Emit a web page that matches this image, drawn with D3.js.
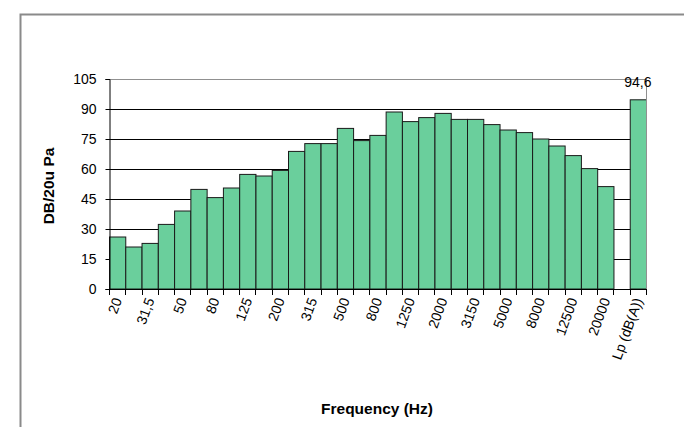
<!DOCTYPE html>
<html lang="en">
<head>
  <meta charset="UTF-8" />
  <title>Frequency spectrum</title>
  <style>
    body {
      margin: 0;
      padding: 0;
      background: #ffffff;
      font-family: "Liberation Sans", Arial, sans-serif;
    }
    svg {
      display: block;
    }
    .tick text {
      font-size: 14px;
      fill: #000;
    }
  </style>
</head>
<body>
  <svg id="chart"></svg>

  <script src="https://d3js.org/d3.v7.min.js"></script>
  <script>
    // third-octave bands, one empty slot, then the overall level
    const bands = ["20", "25", "31,5", "40", "50", "63", "80", "100", "125", "160",
      "200", "250", "315", "400", "500", "630", "800", "1000", "1250", "1600",
      "2000", "2500", "3150", "4000", "5000", "6300", "8000", "10000", "12500",
      "16000", "20000", "", "Lp (dB(A))"];
    const levels = [26, 21, 22.8, 32.3, 39, 49.8, 45.7, 50.5, 57.3, 56.5,
      59.3, 68.8, 72.7, 72.7, 80.3, 74.2, 76.8, 88.5, 83.7, 85.7,
      87.8, 84.8, 84.8, 82.2, 79.5, 78.2, 75, 71.5, 66.7,
      60.2, 51.2, null, 94.6];
    const yTicks = [0, 15, 30, 45, 60, 75, 90, 105];
    const shownLabels = ["20", "31,5", "50", "80", "125", "200", "315", "500", "800",
      "1250", "2000", "3150", "5000", "8000", "12500", "20000", "Lp (dB(A))"];
    const valueLabel = { key: "Lp (dB(A))", text: "94,6" };

    const width = 684, height = 427;
    const svg = d3.select("#chart").attr("width", width).attr("height", height);

    // outer frame
    svg.append("rect")
      .attr("x", 20.5).attr("y", 14.5)
      .attr("width", width).attr("height", height)
      .attr("fill", "none")
      .attr("stroke", "#8a8a8a")
      .attr("stroke-width", 2);

    const plotLeft = 109, plotRight = 646, plotTop = 79, plotBottom = 289;

    const x = d3.scaleBand()
      .domain(d3.range(bands.length))
      .range([plotLeft, plotRight])
      .padding(0);

    const y = d3.scaleLinear()
      .domain([0, 105])
      .range([plotBottom, plotTop]);

    // grid
    svg.append("g")
      .selectAll("line")
      .data(yTicks)
      .join("line")
      .attr("x1", plotLeft).attr("x2", plotRight)
      .attr("y1", d => Math.round(y(d)) + 0.5)
      .attr("y2", d => Math.round(y(d)) + 0.5)
      .attr("stroke", d => d === 105 ? "#909090" : "#000")
      .attr("stroke-width", 1);

    // bars
    svg.append("g")
      .selectAll("rect")
      .data(levels.map((v, i) => ({ i, v })).filter(d => d.v !== null))
      .join("rect")
      .attr("x", d => x(d.i) + 0.5)
      .attr("y", d => y(d.v))
      .attr("width", x.bandwidth())
      .attr("height", d => plotBottom - y(d.v))
      .attr("fill", "#6acf9c")
      .attr("stroke", "#1a1a1a")
      .attr("stroke-width", 1);

    // right border of the plot area
    svg.append("line")
      .attr("x1", plotRight + 0.5).attr("x2", plotRight + 0.5)
      .attr("y1", plotTop).attr("y2", plotBottom)
      .attr("stroke", "#909090");

    // y axis
    const yAxis = svg.append("g")
      .attr("transform", `translate(${plotLeft + 0.5},0)`)
      .call(d3.axisLeft(y).tickValues(yTicks).tickSize(4).tickPadding(9));
    yAxis.select(".domain").attr("stroke", "#000");
    yAxis.selectAll(".tick line").attr("stroke", "#000");
    yAxis.selectAll(".tick text").attr("font-family", "Liberation Sans, Arial, sans-serif");

    // x axis line and slot ticks
    svg.append("line")
      .attr("x1", plotLeft).attr("x2", plotRight + 1)
      .attr("y1", plotBottom + 0.5).attr("y2", plotBottom + 0.5)
      .attr("stroke", "#000");

    const edges = d3.range(bands.length + 1).map(i => i < bands.length ? x(i) : plotRight);
    svg.append("g")
      .selectAll("line")
      .data(edges)
      .join("line")
      .attr("x1", d => Math.round(d) + 0.5).attr("x2", d => Math.round(d) + 0.5)
      .attr("y1", plotBottom).attr("y2", plotBottom + 6)
      .attr("stroke", "#000");

    // rotated category labels
    svg.append("g")
      .selectAll("text")
      .data(bands.map((b, i) => ({ b, i })).filter(d => shownLabels.includes(d.b)))
      .join("text")
      .attr("transform", d => `translate(${x(d.i) + x.bandwidth() / 2 + 5},${plotBottom + 11}) rotate(-70)`)
      .attr("text-anchor", "end")
      .attr("font-size", 14)
      .attr("fill", "#000")
      .text(d => d.b);

    // value label on the overall level
    const li = bands.indexOf(valueLabel.key);
    svg.append("text")
      .attr("x", x(li) + x.bandwidth() / 2)
      .attr("y", y(levels[li]) - 13)
      .attr("text-anchor", "middle")
      .attr("font-size", 14)
      .attr("fill", "#000")
      .text(valueLabel.text);

    // axis titles
    svg.append("text")
      .attr("x", 377).attr("y", 414)
      .attr("text-anchor", "middle")
      .attr("font-size", 15.5)
      .attr("font-weight", "bold")
      .text("Frequency (Hz)");

    svg.append("text")
      .attr("transform", `translate(54,186) rotate(-90)`)
      .attr("text-anchor", "middle")
      .attr("font-size", 15.5)
      .attr("font-weight", "bold")
      .text("DB/20u Pa");
  </script>
</body>
</html>
